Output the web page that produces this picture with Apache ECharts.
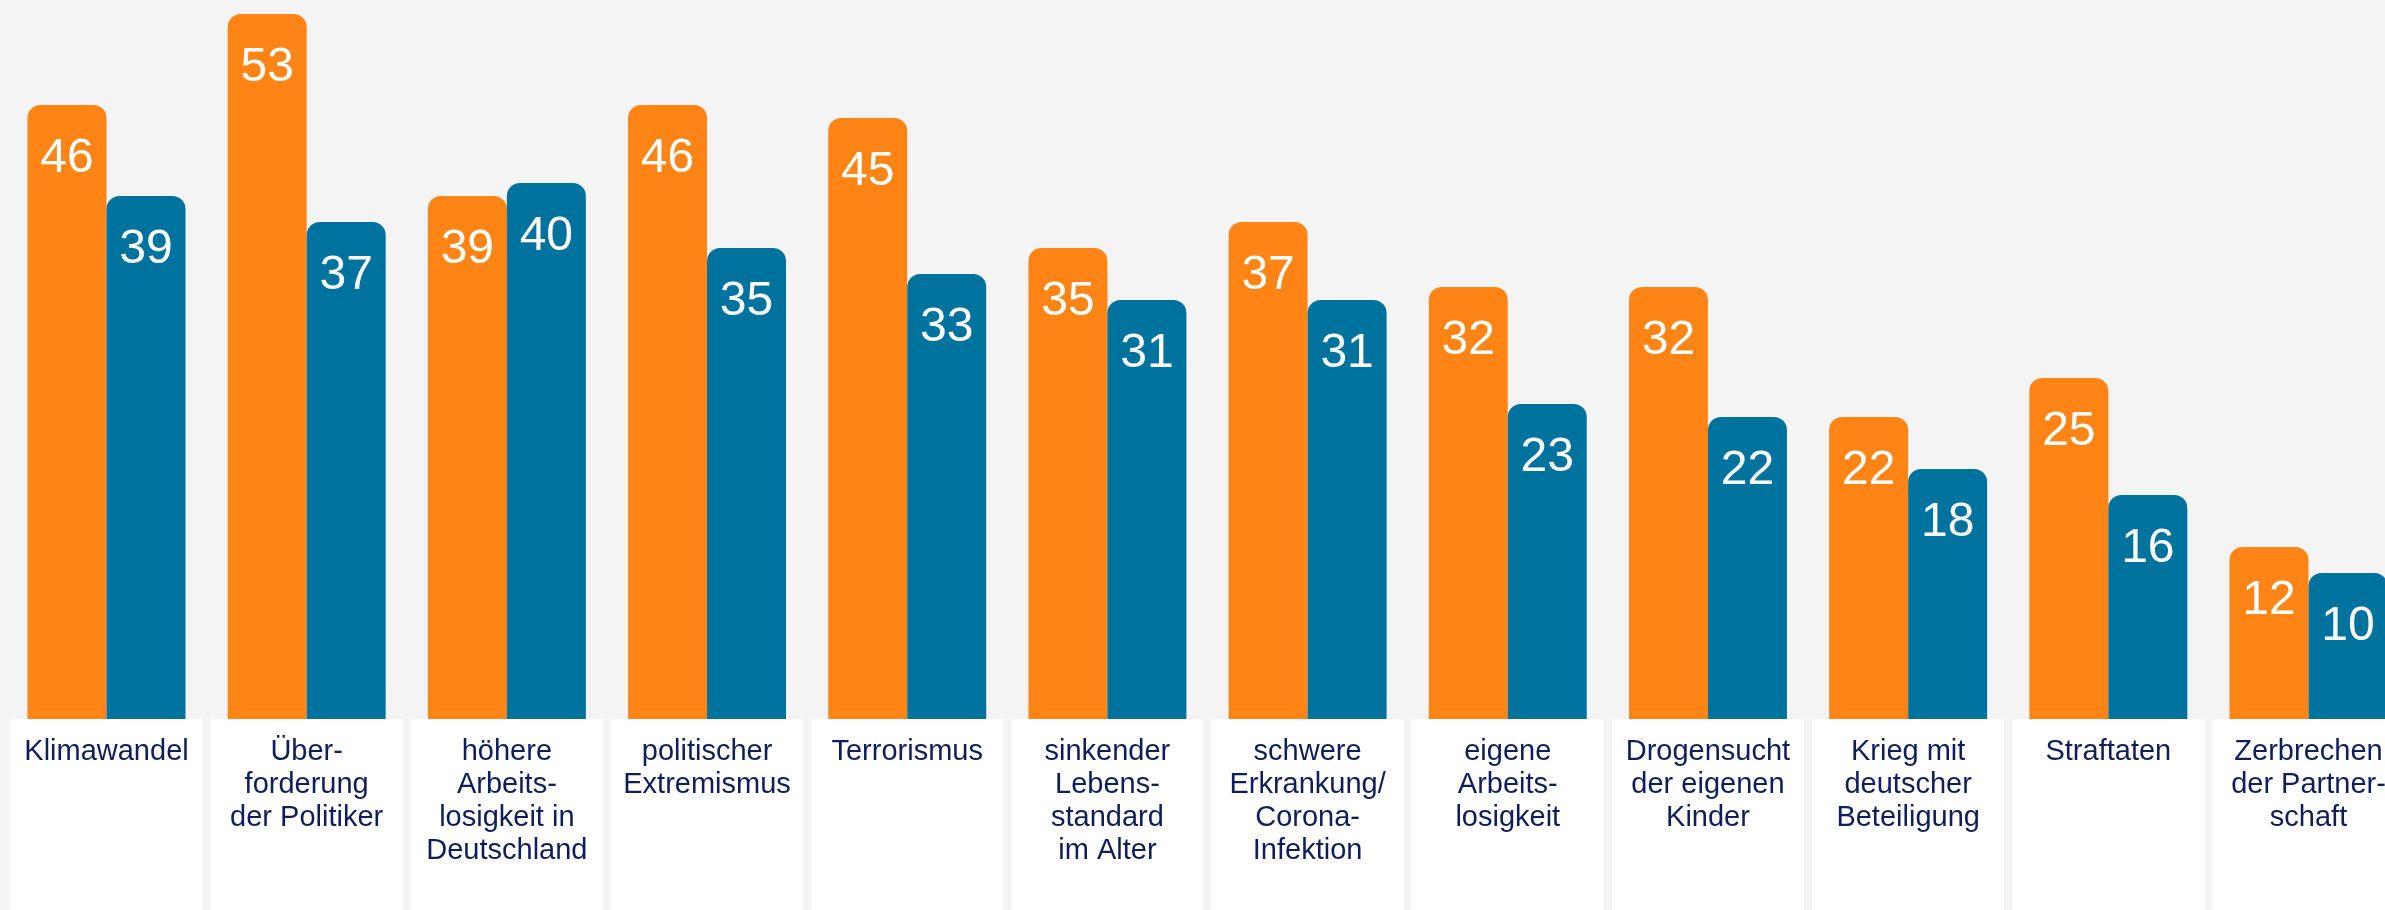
<!DOCTYPE html>
<html>
<head>
<meta charset="utf-8">
<script src="https://cdn.jsdelivr.net/npm/echarts@6/dist/echarts.min.js"></script>
<style>
html,body{margin:0;padding:0;background:#F4F4F4;}
#c{width:2385px;height:910px;}
</style>
</head>
<body>
<div id="c"></div>
<script>
const categories = [
  'Klimawandel',
  'Über-\nforderung\nder Politiker',
  'höhere\nArbeits-\nlosigkeit in\nDeutschland',
  'politischer\nExtremismus',
  'Terrorismus',
  'sinkender\nLebens-\nstandard\nim Alter',
  'schwere\nErkrankung/\nCorona-\nInfektion',
  'eigene\nArbeits-\nlosigkeit',
  'Drogensucht\nder eigenen\nKinder',
  'Krieg mit\ndeutscher\nBeteiligung',
  'Straftaten',
  'Zerbrechen\nder Partner-\nschaft'
];
const seriesOrange = [46, 53, 39, 46, 45, 35, 37, 32, 32, 22, 25, 12];
const seriesBlue = [39, 37, 40, 35, 33, 31, 31, 23, 22, 18, 16, 10];

const chart = echarts.init(document.getElementById('c'), null, {renderer: 'canvas'});
const FONT = 'Liberation Sans, Arial, sans-serif';
const labelStyle = {
  show: true,
  position: 'insideTop',
  distance: 30,
  color: '#FFFFFF',
  fontSize: 48,
  fontFamily: FONT,
  lineHeight: 48
};
chart.setOption({
  backgroundColor: '#F4F4F4',
  animation: false,
  grid: {left: 6.4, top: 0, width: 2402.2, height: 719, containLabel: false, outerBoundsMode: 'none'},
  xAxis: {
    type: 'category',
    data: categories,
    axisLine: {show: false},
    axisTick: {show: false},
    splitLine: {show: false},
    axisLabel: {
      interval: 0,
      margin: 0,
      hideOverlap: false,
      color: '#0E1E5B',
      fontFamily: FONT,
      fontSize: 29,
      lineHeight: 33,
      backgroundColor: '#FFFFFF',
      width: 192,
      height: 180,
      padding: [16, 0, 0, 0],
      align: 'center',
      verticalAlign: 'top'
    }
  },
  yAxis: {
    type: 'value',
    min: -16 / 13,
    max: 703 / 13,
    startValue: -16 / 13,
    show: false,
    splitLine: {show: false}
  },
  series: [
    {
      type: 'bar',
      data: seriesOrange,
      barWidth: 79,
      barGap: '0%',
      itemStyle: {color: '#FF8416', borderRadius: [13, 13, 0, 0]},
      label: labelStyle
    },
    {
      type: 'bar',
      data: seriesBlue,
      barWidth: 79,
      barGap: '0%',
      itemStyle: {color: '#00729E', borderRadius: [13, 13, 0, 0]},
      label: labelStyle
    }
  ]
});
</script>
</body>
</html>
